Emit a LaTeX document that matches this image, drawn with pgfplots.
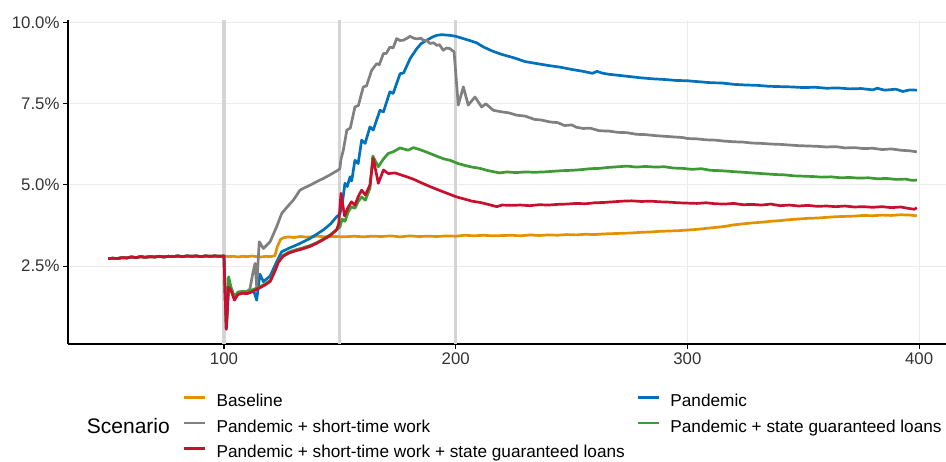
\documentclass[border=0pt]{standalone}
\usepackage{fontspec}
\setmainfont{Liberation Sans}
\usepackage{pgfplots}
\pgfplotsset{compat=1.18}
\definecolor{cbase}{RGB}{228,145,0}
\definecolor{cpand}{RGB}{0,114,189}
\definecolor{cstw}{RGB}{128,128,128}
\definecolor{cloan}{RGB}{60,155,50}
\definecolor{cboth}{RGB}{200,16,46}
\begin{document}
\begin{tikzpicture}
\begin{axis}[
  at={(68pt,118pt)}, anchor=south west,
  width=878pt, height=324pt, scale only axis,
  xmin=32.67, xmax=411.6, ymin=0.098, ymax=10.083,
  axis lines=left, axis line style={-, line width=1.1pt, black},
  xtick={100,200,300,400}, ytick={2.5,5,7.5,10},
  yticklabels={2.5\%,5.0\%,7.5\%,10.0\%},
  tick align=outside, major tick length=5pt,
  tick style={line width=1.1pt, black},
  grid=major, major grid style={line width=1pt, color=black!8},
  ticklabel style={font=\fontsize{16.8}{20}\selectfont, text=black!80},
  /pgf/number format/assume math mode=true,
  legend columns=2, legend cell align=left,
  legend image code/.code={\draw[#1, line width=2.6pt] (0pt,3.5pt) -- (21pt,3.5pt);},
  legend style={at={(axis description cs:0.1310,-0.2552)}, anchor=west,
    draw=none, fill=none, inner sep=0pt, outer sep=0pt, row sep=7.6pt,
    font=\fontsize{17.2}{20}\selectfont,
    /tikz/every odd column/.append style={column sep=8pt},
    /tikz/every even column/.append style={column sep=10pt}},
  every axis plot/.append style={line width=2.7pt, line join=round},
]
\addplot[forget plot, color=black!17, line width=3.2pt] coordinates {(100,0.098) (100,10.083)};
\addplot[forget plot, color=black!17, line width=3.2pt] coordinates {(150,0.098) (150,10.083)};
\addplot[forget plot, color=black!17, line width=3.2pt] coordinates {(200,0.098) (200,10.083)};
% Baseline
\addplot[cbase] coordinates {
(50,2.73)(52,2.74)(54,2.73)(56,2.76)(58,2.75)(60,2.78)(62,2.76)(64,2.79)(66,2.77)(68,2.79)(70,2.78)(72,2.80)(74,2.78)(76,2.80)(78,2.79)(80,2.81)(82,2.79)(84,2.81)(86,2.80)(88,2.81)(90,2.79)(92,2.81)(94,2.80)(96,2.81)(98,2.80)(100,2.81)
(102,2.79)(104,2.80)(106,2.78)(108,2.80)(110,2.79)(112,2.81)(114,2.79)(116,2.78)(118,2.80)(120,2.79)(122,2.82)(123,3.10)(124.5,3.33)(126,3.38)(128,3.40)(130,3.38)(133,3.41)(136,3.39)(140,3.42)(144,3.40)(148,3.41)(152,3.40)(156,3.42)(160,3.40)(164,3.42)(168,3.41)(172,3.43)(176,3.40)(180,3.43)(184,3.41)(188,3.42)(192,3.41)(196,3.43)(200,3.42)(204,3.45)(208,3.43)(212,3.45)(216,3.43)(220,3.44)(224,3.45)(228,3.43)(232,3.46)(236,3.44)(240,3.46)(244,3.45)(248,3.47)(252,3.46)(256,3.48)(260,3.47)(264,3.49)(268,3.50)(272,3.51)(276,3.52)(280,3.54)(284,3.55)(288,3.57)(292,3.58)(296,3.59)(300,3.61)(304,3.63)(308,3.66)(312,3.69)(316,3.72)(320,3.77)(324,3.80)(328,3.83)(332,3.85)(336,3.88)(340,3.90)(344,3.93)(348,3.95)(352,3.97)(356,3.98)(360,4.00)(364,4.02)(368,4.03)(372,4.04)(376,4.06)(380,4.05)(384,4.07)(388,4.06)(392,4.08)(396,4.07)(399,4.05)};
\addlegendentry{Baseline}
% Pandemic
\addplot[cpand] coordinates {
(50,2.73)(52,2.74)(54,2.73)(56,2.76)(58,2.75)(60,2.78)(62,2.76)(64,2.79)(66,2.77)(68,2.79)(70,2.78)(72,2.80)(74,2.78)(76,2.80)(78,2.79)(80,2.81)(82,2.79)(84,2.81)(86,2.80)(88,2.81)(90,2.79)(92,2.81)(94,2.80)(96,2.81)(98,2.80)(100,2.81)
(100.5,1.6)(101,0.58)(102,2.05)(103,1.80)(104.5,1.50)(106,1.66)(108,1.69)(110,1.68)(112,1.74)(113,1.70)(114.1,1.45)(115.5,2.25)(117,2.02)(119.9,2.19)(122.7,2.63)(124.9,2.94)(128,3.05)(131.4,3.15)(134,3.24)(137.1,3.35)(140,3.48)(143,3.62)(146,3.80)(148.6,4.02)(150,4.10)(151,4.40)(152.2,5.05)(153.2,4.95)(154.4,5.25)(155.1,5.12)(156.5,5.76)(157.9,5.66)(159.4,6.38)(160.9,6.28)(163,6.79)(164.4,6.69)(167.3,7.30)(168.8,7.25)(171.6,7.87)(173,7.82)(176,8.43)(177.5,8.45)(180.3,8.89)(183.2,9.20)(185,9.35)(187.5,9.46)(190,9.56)(191.8,9.61)(194,9.63)(197.5,9.61)(200,9.58)(203.3,9.51)(206,9.45)(209,9.38)(212,9.25)(216,9.12)(220,9.02)(225,8.92)(230,8.80)(235,8.74)(240,8.68)(245,8.63)(250,8.56)(255,8.50)(259,8.44)(261,8.50)(263,8.45)(266,8.41)(270,8.38)(275,8.34)(280,8.30)(285,8.27)(290,8.25)(295,8.22)(300,8.21)(305,8.18)(310,8.15)(315,8.14)(320,8.10)(325,8.08)(330,8.07)(335,8.04)(340,8.03)(345,8.02)(350,8.00)(355,8.01)(360,7.98)(365,7.99)(370,7.96)(375,7.97)(380,7.93)(382,7.98)(385,7.92)(390,7.95)(393,7.88)(396,7.93)(399,7.92)};
\addlegendentry{Pandemic}
% Pandemic + short-time work
\addplot[cstw] coordinates {
(50,2.73)(52,2.74)(54,2.73)(56,2.76)(58,2.75)(60,2.78)(62,2.76)(64,2.79)(66,2.77)(68,2.79)(70,2.78)(72,2.80)(74,2.78)(76,2.80)(78,2.79)(80,2.81)(82,2.79)(84,2.81)(86,2.80)(88,2.81)(90,2.79)(92,2.81)(94,2.80)(96,2.81)(98,2.80)(100,2.81)
(100.5,1.6)(101,0.58)(102,2.00)(103,1.80)(104.5,1.50)(106,1.66)(108,1.70)(110,1.72)(111.2,1.80)(112.5,2.30)(113.4,2.58)(114.1,1.86)(115.2,3.25)(117,3.04)(119.9,3.25)(122.7,3.71)(124.9,4.12)(127,4.30)(129.9,4.53)(132.8,4.84)(135,4.92)(137.1,4.99)(140,5.10)(142.9,5.20)(146,5.32)(149.3,5.46)(150,5.50)(150.5,5.80)(151.5,6.07)(152.3,6.40)(153,6.69)(154.5,6.75)(156.5,7.40)(158,7.45)(160.1,8.02)(161.5,8.05)(163.7,8.53)(165.9,8.74)(167,8.70)(168.8,9.05)(170,9.05)(171.6,9.25)(173,9.22)(174.5,9.51)(176,9.45)(177.4,9.46)(179,9.52)(180.3,9.58)(182,9.52)(183.2,9.50)(185,9.52)(186,9.46)(187.5,9.45)(188.9,9.36)(190.5,9.38)(191.8,9.30)(193,9.32)(194.6,9.15)(196,9.22)(197.5,9.20)(199.3,9.10)(201.1,7.46)(203.3,8.02)(205.4,7.46)(208.3,7.71)(211.2,7.40)(213,7.50)(216.2,7.30)(220,7.25)(223,7.22)(226.3,7.15)(230,7.12)(234,7.02)(237,7.00)(240.7,6.94)(244,6.92)(247,6.83)(250,6.85)(252,6.78)(255,6.74)(258,6.75)(262,6.67)(266,6.66)(270,6.62)(274,6.61)(278,6.56)(282,6.55)(286,6.52)(290,6.50)(294,6.48)(298,6.46)(300,6.43)(304,6.42)(308,6.39)(312,6.38)(316,6.35)(320,6.33)(324,6.32)(328,6.29)(332,6.28)(336,6.26)(340,6.25)(344,6.23)(348,6.21)(352,6.20)(356,6.19)(360,6.17)(364,6.18)(368,6.14)(372,6.15)(376,6.12)(380,6.13)(384,6.09)(388,6.11)(392,6.07)(396,6.05)(399,6.02)};
\addlegendentry{Pandemic + short-time work}
% Pandemic + state guaranteed loans
\addplot[cloan] coordinates {
(50,2.73)(52,2.74)(54,2.73)(56,2.76)(58,2.75)(60,2.78)(62,2.76)(64,2.79)(66,2.77)(68,2.79)(70,2.78)(72,2.80)(74,2.78)(76,2.80)(78,2.79)(80,2.81)(82,2.79)(84,2.81)(86,2.80)(88,2.81)(90,2.79)(92,2.81)(94,2.80)(96,2.81)(98,2.80)(100,2.81)
(100.5,1.6)(101,0.60)(102,2.17)(103,1.85)(104.5,1.55)(106,1.70)(108,1.72)(110,1.70)(112,1.76)(114,1.82)(116,1.88)(118,1.96)(120,2.06)(122,2.38)(123.5,2.65)(125.5,2.83)(128,2.93)(131,3.00)(134,3.06)(137,3.13)(140,3.22)(143,3.34)(146,3.47)(148.6,3.62)(150,3.70)(151,3.95)(152.2,3.88)(153.5,4.15)(155,4.33)(156.5,4.28)(158,4.50)(159.4,4.63)(161,4.53)(163,4.90)(164.2,5.89)(166.6,5.56)(168.8,5.80)(170.9,5.97)(173,6.02)(176,6.14)(178,6.10)(179.5,6.07)(181.7,6.15)(184,6.10)(186,6.05)(188.9,5.97)(192,5.88)(195,5.80)(197.5,5.76)(201,5.66)(204,5.60)(207,5.55)(210.5,5.51)(214,5.44)(219,5.37)(222,5.40)(226,5.38)(230,5.40)(234,5.39)(238,5.40)(242,5.42)(246,5.44)(250,5.45)(254,5.47)(258,5.50)(262,5.51)(266,5.54)(270,5.56)(274,5.58)(278,5.55)(282,5.57)(286,5.55)(290,5.56)(294,5.52)(298,5.51)(302,5.48)(306,5.50)(310,5.45)(314,5.44)(318,5.42)(322,5.40)(326,5.38)(330,5.36)(334,5.34)(338,5.32)(342,5.31)(346,5.28)(350,5.27)(354,5.26)(358,5.24)(362,5.25)(366,5.22)(370,5.23)(374,5.21)(378,5.22)(382,5.19)(386,5.20)(390,5.17)(394,5.18)(397,5.14)(399,5.15)};
\addlegendentry{Pandemic + state guaranteed loans}
% Pandemic + short-time work + state guaranteed loans
\addplot[cboth] coordinates {
(50,2.73)(52,2.74)(54,2.73)(56,2.76)(58,2.75)(60,2.78)(62,2.76)(64,2.79)(66,2.77)(68,2.79)(70,2.78)(72,2.80)(74,2.78)(76,2.80)(78,2.79)(80,2.81)(82,2.79)(84,2.81)(86,2.80)(88,2.81)(90,2.79)(92,2.81)(94,2.80)(96,2.81)(98,2.80)(100,2.81)
(100.5,1.6)(101,0.55)(102,1.85)(103,1.75)(104.5,1.45)(106,1.62)(108,1.66)(110,1.65)(112,1.70)(114,1.78)(116,1.85)(118,1.93)(120,2.03)(122,2.35)(123.5,2.62)(125.5,2.80)(128,2.90)(131,2.97)(134,3.03)(137,3.10)(140,3.20)(143,3.32)(146,3.45)(148.6,3.62)(149.5,3.80)(150.5,4.74)(152,4.05)(153.5,4.30)(155,4.48)(156.5,4.38)(158,4.65)(159.4,4.84)(161,4.69)(163,5.00)(164.4,5.82)(166.6,5.05)(168.8,5.46)(170.9,5.35)(173.8,5.37)(176,5.32)(178.9,5.25)(182,5.17)(185,5.07)(188.9,4.95)(192,4.86)(196,4.75)(200.4,4.63)(204,4.56)(207,4.50)(210.5,4.46)(214,4.40)(217.7,4.33)(220,4.38)(224,4.37)(228,4.38)(232,4.36)(236,4.39)(240,4.38)(244,4.40)(248,4.41)(252,4.43)(256,4.42)(260,4.45)(264,4.46)(268,4.48)(272,4.50)(276,4.51)(280,4.49)(284,4.50)(288,4.48)(292,4.47)(296,4.45)(300,4.44)(304,4.43)(308,4.45)(312,4.42)(316,4.41)(320,4.43)(324,4.39)(328,4.40)(332,4.38)(336,4.41)(340,4.36)(344,4.38)(348,4.35)(352,4.37)(356,4.34)(360,4.35)(364,4.33)(368,4.35)(372,4.32)(376,4.33)(380,4.31)(384,4.33)(388,4.30)(392,4.32)(396,4.27)(398,4.25)(399,4.30)};
\addlegendentry{Pandemic + short-time work + state guaranteed loans}
\end{axis}
\node[anchor=west, inner sep=0pt, font=\fontsize{21}{25}\selectfont] at (86.7pt,35.8pt) {Scenario};
\pgfresetboundingbox
\path[use as bounding box] (0pt,0pt) rectangle (946pt,462pt);
\end{tikzpicture}
\end{document}
